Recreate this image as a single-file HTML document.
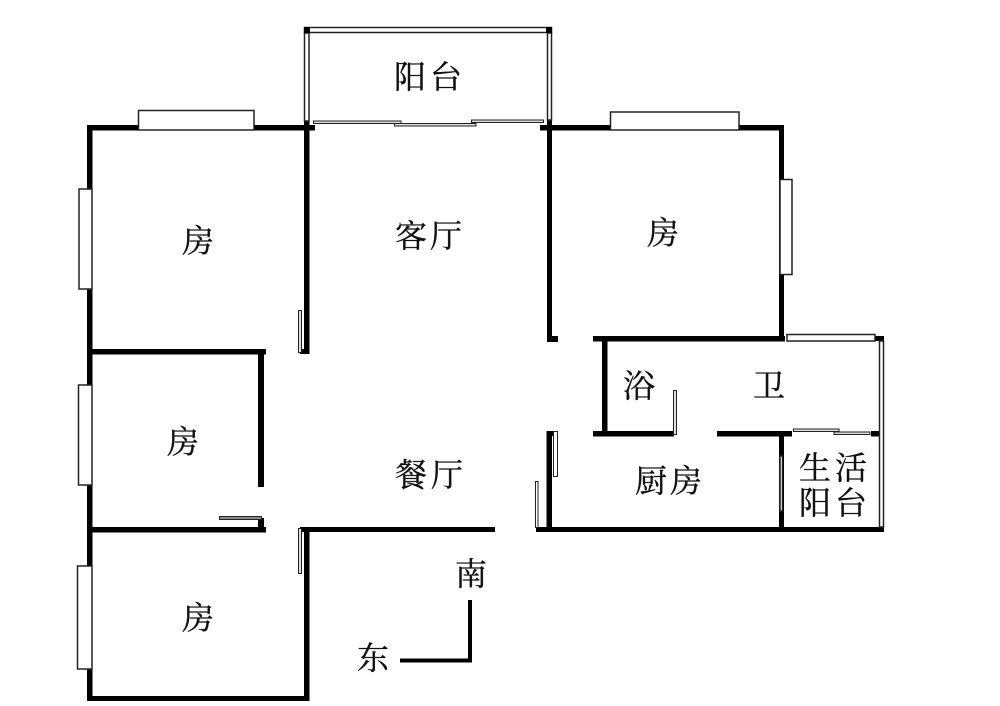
<!DOCTYPE html>
<html><head><meta charset="utf-8"><style>
html,body{margin:0;padding:0;background:#fff;width:1000px;height:706px;overflow:hidden}
svg{display:block}
text{font-family:"Liberation Serif","Noto Serif CJK SC",serif;fill:#111;stroke:#111;stroke-width:.35;text-anchor:middle;font-size:32px}
.w rect{fill:#000}
.o rect{fill:#fff;stroke:#222;stroke-width:1.5}
.d rect{fill:#ddd;stroke:#222;stroke-width:1}
</style></head><body>
<svg width="1000" height="706" viewBox="0 0 1000 706" xmlns="http://www.w3.org/2000/svg">
<rect width="1000" height="706" fill="#fff"/>
<g class="w">
<rect x="87" y="125" width="228" height="5.5"/>
<rect x="540" y="125" width="244" height="5.5"/>
<rect x="87" y="125" width="5.5" height="576"/>
<rect x="87" y="349" width="179" height="5.5"/>
<rect x="258" y="349" width="6" height="138"/>
<rect x="87" y="527" width="179" height="5.5"/>
<rect x="258" y="518" width="6" height="10"/>
<rect x="87" y="696" width="222" height="5"/>
<rect x="304" y="120" width="5.5" height="234"/>
<rect x="300" y="349" width="9.5" height="5"/>
<rect x="304" y="527" width="5.5" height="174"/>
<rect x="300" y="527" width="195" height="5"/>
<rect x="547" y="120" width="5" height="222"/>
<rect x="547" y="336" width="11" height="6"/>
<rect x="593" y="336" width="192" height="5.5"/>
<rect x="779" y="125" width="5" height="214"/>
<rect x="602" y="336" width="5.5" height="100"/>
<rect x="593" y="431" width="81" height="5.5"/>
<rect x="717" y="431" width="75" height="5.5"/>
<rect x="779" y="431" width="5" height="100"/>
<rect x="871" y="431" width="9" height="5.5"/>
<rect x="546.5" y="431" width="5.5" height="100"/>
<rect x="546.5" y="431" width="11" height="5"/>
<rect x="536" y="527" width="348" height="5"/>
<rect x="875" y="336" width="9" height="5"/>
</g>
<g class="o">
<rect x="138.500" y="110.500" width="115.500" height="19.500"/>
<rect x="79" y="189" width="13" height="100"/>
<rect x="78.500" y="385" width="13.500" height="100"/>
<rect x="77.500" y="566" width="14.500" height="103"/>
<rect x="610.500" y="112" width="128.500" height="18"/>
<rect x="780" y="179.500" width="12" height="95"/>
<rect x="787" y="334.500" width="88" height="6.500"/>
<rect x="879.500" y="341" width="4" height="186"/>
<rect x="780" y="456" width="2.500" height="55"/>
<rect x="304.500" y="27.500" width="247" height="5"/>
<rect x="304.500" y="33" width="4.500" height="88"/>
<rect x="547.500" y="33" width="4" height="87"/>
</g>
<g class="w">
<rect x="304" y="27" width="6" height="6"/>
<rect x="546" y="27" width="6" height="6"/>
</g>
<g class="d">
<rect x="313.500" y="121" width="87.500" height="2.500"/>
<rect x="394.500" y="123.500" width="81.500" height="2.500"/>
<rect x="471.500" y="120" width="72" height="2.500"/>
<rect x="298.500" y="310.500" width="3" height="42"/>
<rect x="298.500" y="528.500" width="3" height="45"/>
<rect x="219.500" y="516.500" width="42" height="3" style="fill:#888"/>
<rect x="673.500" y="390.500" width="3" height="44"/>
<rect x="793.500" y="429" width="45.500" height="2.500"/>
<rect x="834" y="432" width="36" height="2.500"/>
<rect x="553.500" y="431.500" width="4" height="45" style="fill:#fff"/>
<rect x="535.500" y="481.500" width="2.500" height="46" style="fill:#fff"/>
</g>
<rect x="468" y="600" width="4" height="62" fill="#000"/>
<rect x="400" y="658.500" width="72" height="4" fill="#000"/>
<text x="410" y="88">阳</text><text x="446" y="88">台</text>
<text x="198" y="252">房</text>
<text x="411" y="247">客</text><text x="446" y="247">厅</text>
<text x="663" y="244">房</text>
<text x="183" y="453">房</text>
<text x="198" y="629">房</text>
<text x="411" y="486">餐</text><text x="447" y="486">厅</text>
<text x="639" y="397">浴</text>
<text x="769" y="397">卫</text>
<text x="651" y="492">厨</text><text x="686" y="492">房</text>
<text x="815" y="479">生</text><text x="851" y="479">活</text>
<text x="815" y="514">阳</text><text x="851" y="514">台</text>
<text x="471" y="585">南</text>
<text x="373" y="669">东</text>
</svg>
</body></html>
